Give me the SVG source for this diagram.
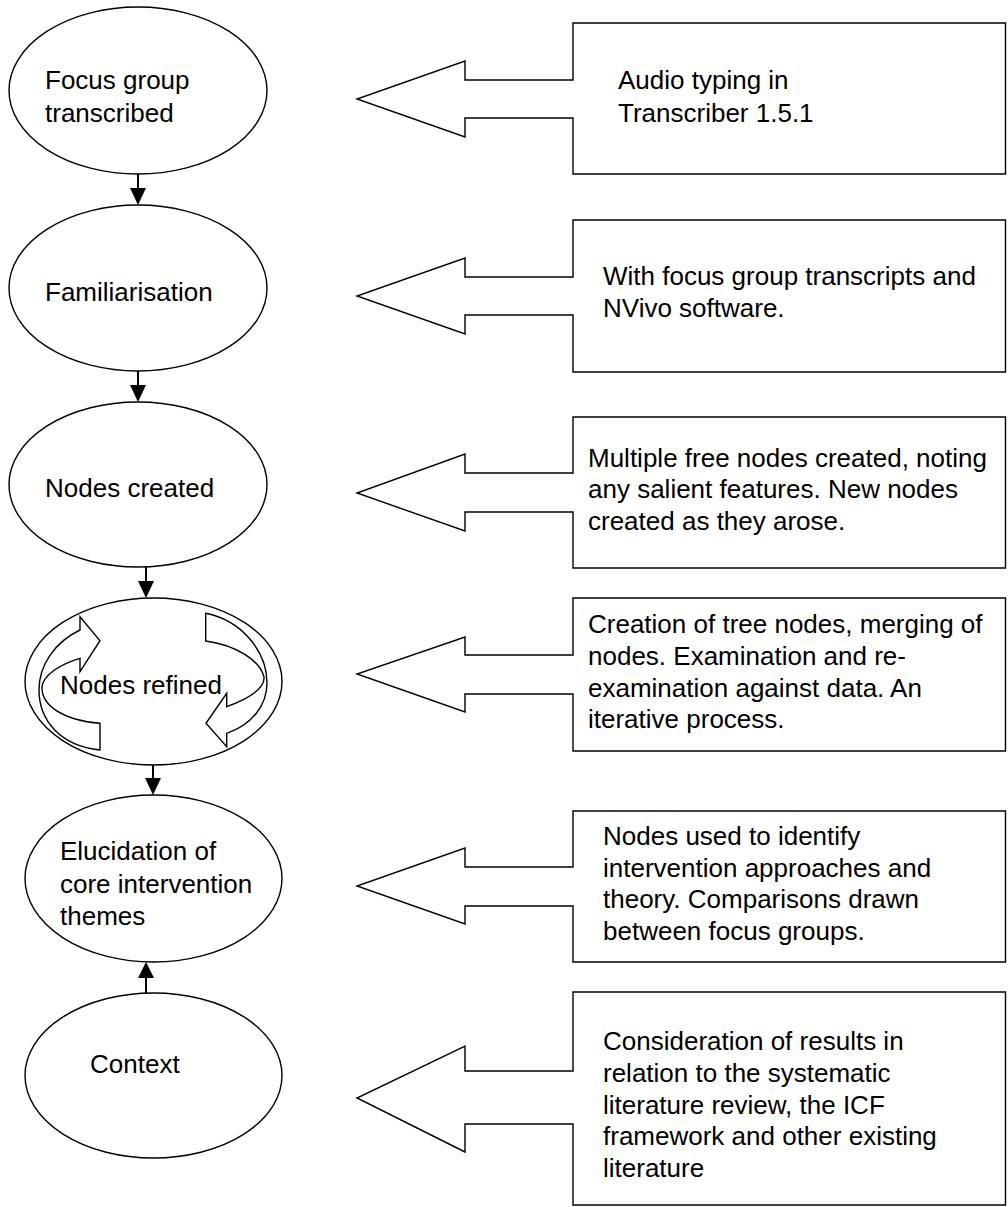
<svg xmlns="http://www.w3.org/2000/svg" width="1008" height="1207" viewBox="0 0 1008 1207">
<style>
  .shape { fill: #ffffff; stroke: #000000; stroke-width: 1.4; stroke-linejoin: miter; }
  .conn { stroke: #000000; stroke-width: 2; fill: none; }
  .lbl { font-family: "Liberation Sans", Arial, sans-serif; font-size: 26px; fill: #000000; }
</style>
<defs>
  <marker id="ah" viewBox="0 0 10 10" refX="10" refY="5" markerWidth="8" markerHeight="8" markerUnits="userSpaceOnUse" orient="auto">
    <path d="M0,0 L10,5 L0,10 Z" fill="#000000"/>
  </marker>
</defs>
<rect width="1008" height="1207" fill="#ffffff"/>

<g id="connectors">
  <line class="conn" x1="138" y1="174" x2="138" y2="188"/>
  <path d="M130,188 L146,188 L138,205 Z" fill="#000"/>
  <line class="conn" x1="138" y1="371" x2="138" y2="385"/>
  <path d="M130,385 L146,385 L138,402 Z" fill="#000"/>
  <line class="conn" x1="146" y1="567" x2="146" y2="581"/>
  <path d="M138,581 L154,581 L146,598 Z" fill="#000"/>
  <line class="conn" x1="153" y1="765" x2="153" y2="778"/>
  <path d="M145,778 L161,778 L153,795 Z" fill="#000"/>
  <line class="conn" x1="146" y1="993" x2="146" y2="978"/>
  <path d="M138,978 L154,978 L146,962 Z" fill="#000"/>
</g>

<g id="node-transcribed">
  <ellipse class="shape" cx="138" cy="90.5" rx="129" ry="83.5"/>
  <text class="lbl" x="45" y="89">Focus group</text>
  <text class="lbl" x="45" y="122">transcribed</text>
</g>
<g id="node-familiarisation">
  <ellipse class="shape" cx="138" cy="288" rx="129" ry="83"/>
  <text class="lbl" x="45" y="301">Familiarisation</text>
</g>
<g id="node-created">
  <ellipse class="shape" cx="138" cy="484.5" rx="129" ry="82.5"/>
  <text class="lbl" x="45" y="497">Nodes created</text>
</g>
<g id="node-refined">
  <ellipse class="shape" cx="153.5" cy="681.5" rx="128.5" ry="83.5"/>
  <path class="shape" d="M80,630 L80,616.7 L100,640.7 L80,671.7 L80,658.3 C60,664 42,676 42,688 C42,705 62,720 100,723.3 L100,750 C60,746 39,720 39,690 C39,665 55,642 80,630 Z"/>
  <path class="shape" d="M205.7,613.3 C240,620 267,650 267,683 C267,705 252,725 226.7,733.3 L226.7,746.7 L206,723.3 L226.7,693.3 L226.7,706.7 C250,698 265,688 264,677 C260,660 235,645 205.7,641 Z"/>
  <text class="lbl" x="60" y="694">Nodes refined</text>
</g>
<g id="node-elucidation">
  <ellipse class="shape" cx="153.5" cy="878.5" rx="128.5" ry="83.5"/>
  <text class="lbl" x="60" y="860">Elucidation of</text>
  <text class="lbl" x="60" y="893">core intervention</text>
  <text class="lbl" x="60" y="925">themes</text>
</g>
<g id="node-context">
  <ellipse class="shape" cx="153.5" cy="1075.5" rx="128.5" ry="82.5"/>
  <text class="lbl" x="90" y="1073">Context</text>
</g>

<g id="callout-1">
  <path class="shape" d="M573,23 L1005.5,23 L1005.5,174 L573,174 L573,118 L465,118 L465,137 L357,99 L465,61 L465,80 L573,80 Z"/>
  <text class="lbl" x="618" y="89">Audio typing in</text>
  <text class="lbl" x="618" y="122">Transcriber 1.5.1</text>
</g>
<g id="callout-2">
  <path class="shape" d="M573,220 L1005.5,220 L1005.5,372 L573,372 L573,315 L465,315 L465,334 L357,296 L465,258 L465,277 L573,277 Z"/>
  <text class="lbl" x="603" y="285">With focus group transcripts and</text>
  <text class="lbl" x="603" y="317">NVivo software.</text>
</g>
<g id="callout-3">
  <path class="shape" d="M573,417 L1005.5,417 L1005.5,568 L573,568 L573,512 L465,512 L465,531 L357,493 L465,454 L465,473 L573,473 Z"/>
  <text class="lbl" x="588" y="467">Multiple free nodes created, noting</text>
  <text class="lbl" x="588" y="498">any salient features. New nodes</text>
  <text class="lbl" x="588" y="530">created as they arose.</text>
</g>
<g id="callout-4">
  <path class="shape" d="M573,598 L1005.5,598 L1005.5,751 L573,751 L573,694 L465,694 L465,712 L357,674 L465,637 L465,655 L573,655 Z"/>
  <text class="lbl" x="588" y="633">Creation of tree nodes, merging of</text>
  <text class="lbl" x="588" y="665">nodes. Examination and re-</text>
  <text class="lbl" x="588" y="697">examination against data. An</text>
  <text class="lbl" x="588" y="728">iterative process.</text>
</g>
<g id="callout-5">
  <path class="shape" d="M573,811 L1005.5,811 L1005.5,962 L573,962 L573,906 L465,906 L465,924 L357,886 L465,848 L465,867 L573,867 Z"/>
  <text class="lbl" x="603" y="845">Nodes used to identify</text>
  <text class="lbl" x="603" y="877">intervention approaches and</text>
  <text class="lbl" x="603" y="908">theory. Comparisons drawn</text>
  <text class="lbl" x="603" y="940">between focus groups.</text>
</g>
<g id="callout-6">
  <path class="shape" d="M573,992 L1005.5,992 L1005.5,1205 L573,1205 L573,1124 L465,1124 L465,1152 L357,1098 L465,1046 L465,1071 L573,1071 Z"/>
  <text class="lbl" x="603" y="1050">Consideration of results in</text>
  <text class="lbl" x="603" y="1082">relation to the systematic</text>
  <text class="lbl" x="603" y="1114">literature review, the ICF</text>
  <text class="lbl" x="603" y="1145">framework and other existing</text>
  <text class="lbl" x="603" y="1177">literature</text>
</g>
</svg>
